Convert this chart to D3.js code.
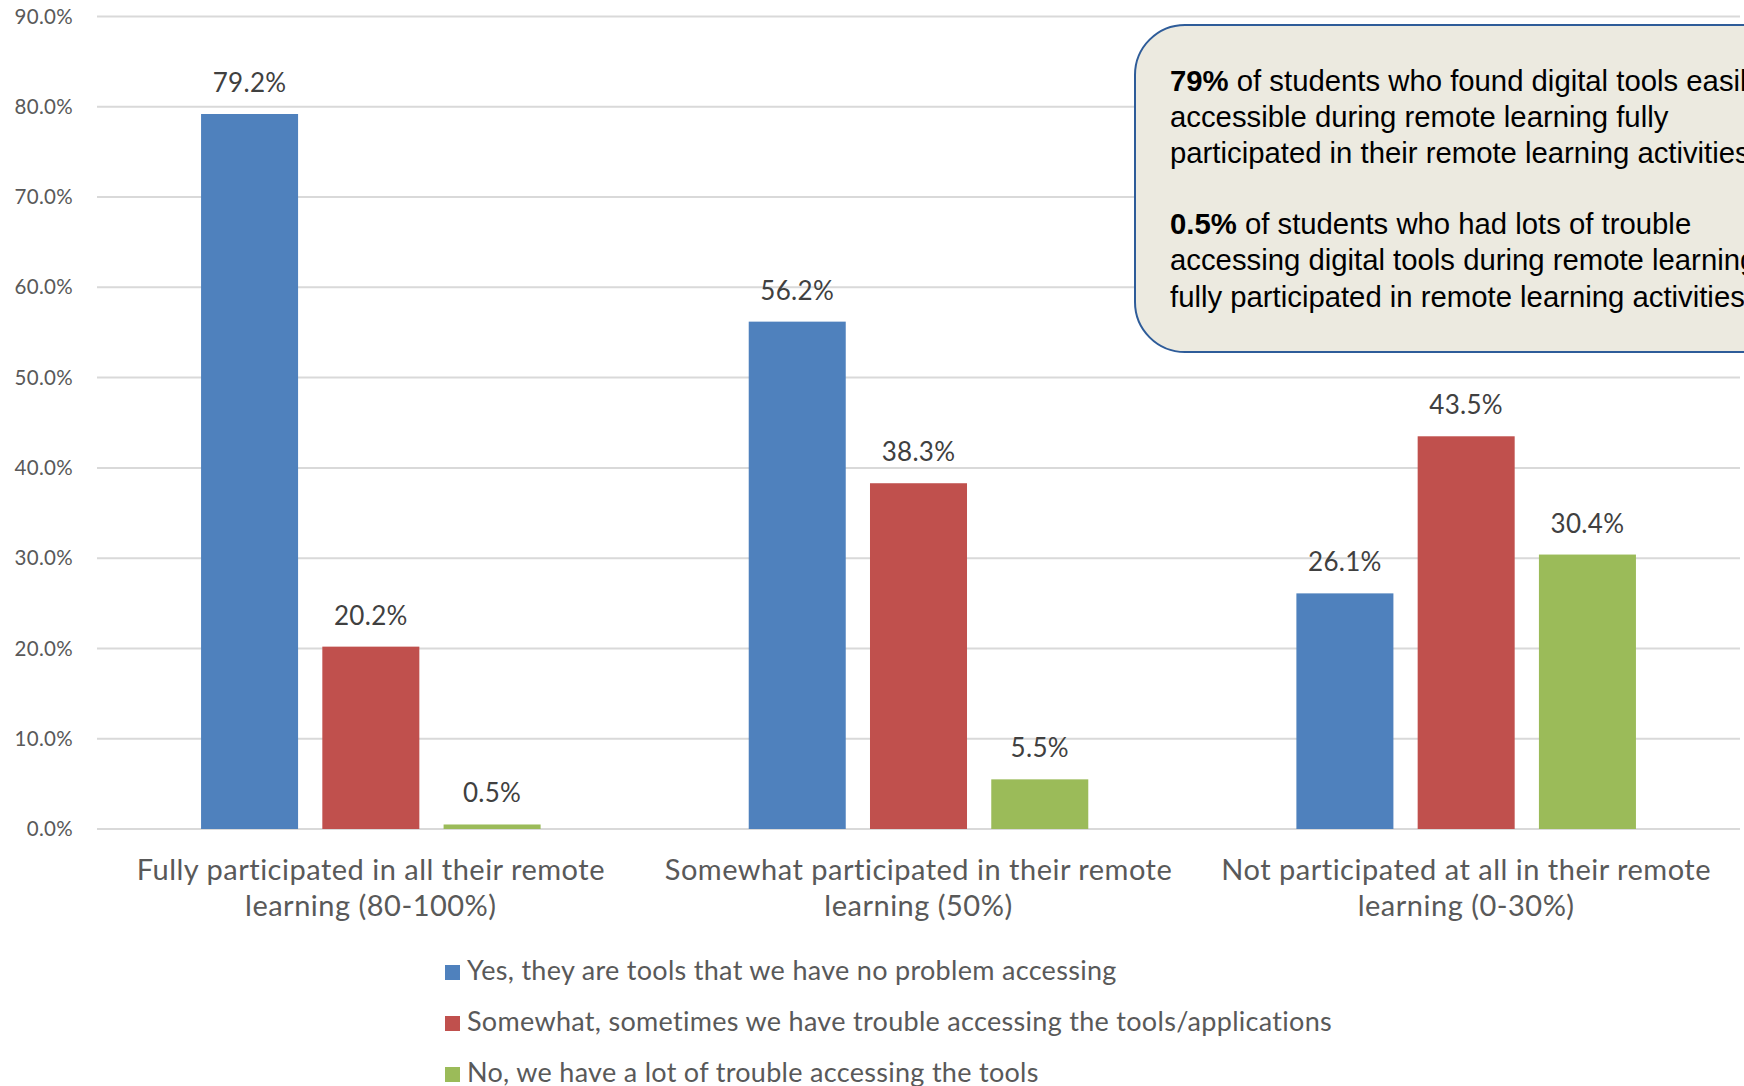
<!DOCTYPE html>
<html>
<head>
<meta charset="utf-8">
<script src="https://cdn.jsdelivr.net/npm/d3@7"></script>
<style>
  html, body { margin: 0; padding: 0; background: #fff; }
  svg { display: block; }
</style>
</head>
<body>
<div id="chart"></div>
<script>
const categories = [
  ['Fully participated in all their remote', 'learning (80-100%)'],
  ['Somewhat participated in their remote', 'learning (50%)'],
  ['Not participated at all in their remote', 'learning (0-30%)']
];
const seriesNames = [
  'Yes, they are tools that we have no problem accessing',
  'Somewhat, sometimes we have trouble accessing the tools/applications',
  'No, we have a lot of trouble accessing the tools'
];
const seriesColors = ['#4F81BD', '#C0504D', '#9BBB59'];
const yesValues = [79.2, 56.2, 26.1];
const somewhatValues = [20.2, 38.3, 43.5];
const noValues = [0.5, 5.5, 30.4];
const yTicks = [0, 10, 20, 30, 40, 50, 60, 70, 80, 90];
const noteLines = [
  { bold: '79%', rest: ' of students who found digital tools easily' },
  { bold: '', rest: 'accessible during remote learning fully' },
  { bold: '', rest: 'participated in their remote learning activities.' },
  null,
  { bold: '0.5%', rest: ' of students who had lots of trouble' },
  { bold: '', rest: 'accessing digital tools during remote learning' },
  { bold: '', rest: 'fully participated in remote learning activities.' }
];

const W = 1744, H = 1086;
const plot = { left: 97, right: 1740, top: 16.5, bottom: 829 };
const font = 'Lato, "Open Sans", sans-serif';
const axisGray = '#595959';

const svg = d3.select('#chart').append('svg')
  .attr('width', W)
  .attr('height', H);

const allSeries = [yesValues, somewhatValues, noValues];
const groupKeys = categories.map((c, i) => i);

const x0 = d3.scaleBand()
  .domain(groupKeys)
  .range([plot.left, plot.right])
  .paddingInner(0.38)
  .paddingOuter(0.19);

const x1 = d3.scaleBand()
  .domain(d3.range(allSeries.length))
  .range([0, x0.bandwidth()])
  .paddingInner(0.2);

const y = d3.scaleLinear()
  .domain([0, 90])
  .range([plot.bottom, plot.top]);

// gridlines
svg.append('g')
  .selectAll('line')
  .data(yTicks)
  .enter()
  .append('line')
  .attr('x1', plot.left)
  .attr('x2', plot.right)
  .attr('y1', d => y(d))
  .attr('y2', d => y(d))
  .attr('stroke', '#D9D9D9')
  .attr('stroke-width', 2);

// y axis labels
const yAxis = svg.append('g')
  .attr('transform', 'translate(73,0)')
  .call(d3.axisLeft(y).tickValues(yTicks).tickSize(0).tickPadding(0).tickFormat(d => d.toFixed(1) + '%'));
yAxis.select('.domain').remove();
yAxis.selectAll('text')
  .attr('font-family', font)
  .attr('font-size', '20.5px')
  .attr('letter-spacing', '0.3px')
  .attr('fill', axisGray);

// bars
const groups = svg.append('g')
  .selectAll('g')
  .data(groupKeys)
  .enter()
  .append('g')
  .attr('transform', d => `translate(${x0(d)},0)`);

const cells = groups.selectAll('g')
  .data(g => allSeries.map((s, si) => ({ si, v: s[g] })))
  .enter()
  .append('g');

cells.append('rect')
  .attr('x', d => x1(d.si))
  .attr('width', x1.bandwidth())
  .attr('y', d => y(d.v))
  .attr('height', d => y(0) - y(d.v))
  .attr('fill', d => seriesColors[d.si]);

cells.append('text')
  .attr('x', d => x1(d.si) + x1.bandwidth() / 2)
  .attr('y', d => y(d.v) - 22)
  .attr('text-anchor', 'middle')
  .attr('font-family', font)
  .attr('font-size', '26px')
  .attr('letter-spacing', '0.3px')
  .attr('fill', '#404040')
  .text(d => d.v.toFixed(1) + '%');

// category labels
const catLabels = svg.append('g')
  .selectAll('text')
  .data(groupKeys)
  .enter()
  .append('text')
  .attr('text-anchor', 'middle')
  .attr('font-family', font)
  .attr('font-size', '29px')
  .attr('letter-spacing', '0.5px')
  .attr('fill', axisGray);

catLabels.selectAll('tspan')
  .data(g => categories[g].map(line => ({ g, line })))
  .enter()
  .append('tspan')
  .attr('x', d => x0(d.g) + x0.bandwidth() / 2)
  .attr('y', (d, i) => 880 + i * 36)
  .text(d => d.line);

// legend
const legend = svg.append('g')
  .selectAll('g')
  .data(seriesNames)
  .enter()
  .append('g')
  .attr('transform', (d, i) => `translate(445,${980 + i * 51})`);

legend.append('rect')
  .attr('x', 0)
  .attr('y', -15)
  .attr('width', 15)
  .attr('height', 15)
  .attr('fill', (d, i) => seriesColors[i]);

legend.append('text')
  .attr('x', 22)
  .attr('y', 0)
  .attr('font-family', font)
  .attr('font-size', '27px')
  .attr('letter-spacing', '0.3px')
  .attr('fill', axisGray)
  .text(d => d);

// callout box
const note = svg.append('g');
note.append('rect')
  .attr('x', 1135)
  .attr('y', 25)
  .attr('width', 700)
  .attr('height', 327)
  .attr('rx', 50)
  .attr('ry', 50)
  .attr('fill', '#ECEAE0')
  .attr('stroke', '#2E5C99')
  .attr('stroke-width', 2);

const noteText = note.append('text')
  .attr('font-family', '"Liberation Sans", Arial, sans-serif')
  .attr('font-size', '29.3px')
  .attr('fill', '#000');

const lineBase = [90.7, 126.7, 162.7, 198, 233.5, 270, 306.5];
noteLines.forEach((ln, i) => {
  if (!ln) return;
  const t = noteText.append('tspan').attr('x', 1170).attr('y', lineBase[i]);
  if (ln.bold) {
    t.append('tspan').attr('font-weight', 'bold').text(ln.bold);
    noteText.append('tspan').text(ln.rest);
  } else {
    t.text(ln.rest);
  }
});
</script>
</body>
</html>
